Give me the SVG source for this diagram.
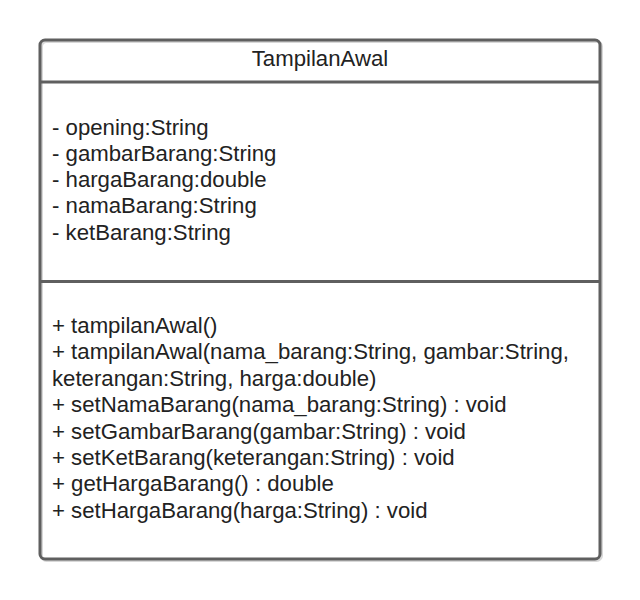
<svg xmlns="http://www.w3.org/2000/svg" width="640" height="600" viewBox="0 0 640 600">
<style>
.t{font-family:"Liberation Sans",Arial,sans-serif;font-size:22.2px;fill:#222}
.ln{stroke:#5f5f5f;stroke-width:3;fill:none}
</style>
<rect width="640" height="600" fill="#fff"/>
<g id="TampilanAwal">
<rect x="41.5" y="41.5" width="560" height="519" rx="5" fill="none" stroke="#d8d8d8" stroke-width="3"/>
<rect x="40" y="40" width="560" height="519" rx="5" fill="#fff" class="ln"/>
<line x1="40" y1="82" x2="600" y2="82" class="ln"/>
<line x1="40" y1="281.5" x2="600" y2="281.5" class="ln"/>
<text class="t" x="320" y="66" text-anchor="middle">TampilanAwal</text>
<text class="t" x="52" y="134.5">- opening:String</text>
<text class="t" x="52" y="160.8">- gambarBarang:String</text>
<text class="t" x="52" y="187.1">- hargaBarang:double</text>
<text class="t" x="52" y="213.4">- namaBarang:String</text>
<text class="t" x="52" y="239.7">- ketBarang:String</text>
<text class="t" x="52" y="333">+ tampilanAwal()</text>
<text class="t" x="52" y="359.4">+ tampilanAwal(nama_barang:String, gambar:String,</text>
<text class="t" x="52" y="385.8">keterangan:String, harga:double)</text>
<text class="t" x="52" y="412.2">+ setNamaBarang(nama_barang:String) : void</text>
<text class="t" x="52" y="438.6">+ setGambarBarang(gambar:String) : void</text>
<text class="t" x="52" y="465">+ setKetBarang(keterangan:String) : void</text>
<text class="t" x="52" y="491.4">+ getHargaBarang() : double</text>
<text class="t" x="52" y="517.8">+ setHargaBarang(harga:String) : void</text>
</g>
</svg>
